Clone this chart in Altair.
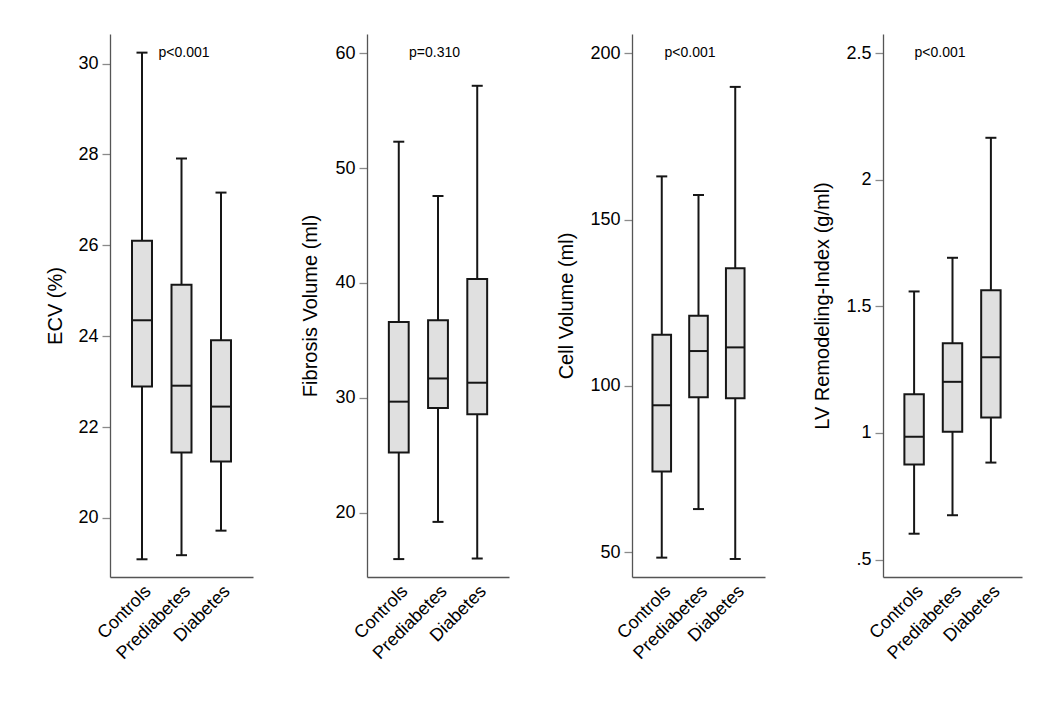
import altair as alt
import pandas as pd

groups = ["Controls", "Prediabetes", "Diabetes"]

# ECV (%)
ecv_low = [19.09, 19.18, 19.72]
ecv_q1 = [22.89, 21.44, 21.24]
ecv_med = [24.35, 22.91, 22.45]
ecv_q3 = [26.10, 25.13, 23.91]
ecv_high = [30.24, 27.91, 27.16]

# Fibrosis Volume (ml)
fib_low = [15.95, 19.19, 16.0]
fib_q1 = [25.23, 29.10, 28.57]
fib_med = [29.66, 31.68, 31.31]
fib_q3 = [36.60, 36.76, 40.34]
fib_high = [52.30, 47.57, 57.17]

# Cell Volume (ml)
cell_low = [48.4, 63.0, 48.0]
cell_q1 = [74.3, 96.6, 96.3]
cell_med = [94.2, 110.5, 111.6]
cell_q3 = [115.4, 121.1, 135.4]
cell_high = [163.0, 157.4, 189.9]

# LV Remodeling-Index (g/ml)
lv_low = [0.602, 0.675, 0.883]
lv_q1 = [0.875, 1.005, 1.061]
lv_med = [0.985, 1.202, 1.299]
lv_q3 = [1.153, 1.354, 1.564]
lv_high = [1.559, 1.692, 2.166]

titles = ["ECV (%)", "Fibrosis Volume (ml)", "Cell Volume (ml)", "LV Remodeling-Index (g/ml)"]
pvalues = ["p<0.001", "p=0.310", "p<0.001", "p<0.001"]
domains = [[18.70, 30.65], [14.39, 61.68], [42.58, 205.8], [0.431, 2.576]]
tick_values = [[20, 22, 24, 26, 28, 30], [20, 30, 40, 50, 60], [50, 100, 150, 200], [0.5, 1, 1.5, 2, 2.5]]

FONT = "Liberation Sans"
DARK = "#161616"
FILL = "#e0e0e0"
HEIGHT = 543
P_IN = 0.494
P_OUT = 0.557


def panel(low, q1, med, q3, high, title, dom, ticks, ptext, width, ext, pdx, label_expr=None):
    df = pd.DataFrame({"group": groups, "low": low, "q1": q1, "med": med, "q3": q3, "high": high})
    step = width / (3 - P_IN + 2 * P_OUT)
    box_w = step * (1 - P_IN)
    xenc = alt.X(
        "group:N", sort=groups, title=None,
        scale=alt.Scale(type="band", paddingInner=P_IN, paddingOuter=P_OUT),
        axis=alt.Axis(labelAngle=-45, ticks=False, labelPadding=5, labelFontSize=18,
                      labelColor="black", domainColor="#555555", domainWidth=1.3),
    )
    ax_kwargs = dict(values=ticks, grid=False, tickSize=8, tickColor="#8a8a8a", tickWidth=1.3,
                     labelFontSize=18, labelColor="black", labelPadding=4,
                     titleFontSize=20, titleFontWeight="normal", titleColor="black",
                     minExtent=ext, maxExtent=ext, titlePadding=8,
                     domainColor="#555555", domainWidth=1.3)
    if label_expr:
        ax_kwargs["labelExpr"] = label_expr
    yaxis = alt.Axis(**ax_kwargs)
    ys = alt.Scale(domain=dom, nice=False, zero=False)

    def Y(field):
        return alt.Y(field + ":Q", scale=ys, axis=yaxis, title=title)

    base = alt.Chart(df)
    whisk = base.mark_rule(color=DARK, strokeWidth=2, opacity=1).encode(x=xenc, y=Y("low"), y2="high:Q")
    cap_lo = base.mark_tick(color=DARK, size=11, thickness=2, opacity=1).encode(x=xenc, y=Y("low"))
    cap_hi = base.mark_tick(color=DARK, size=11, thickness=2, opacity=1).encode(x=xenc, y=Y("high"))
    box = base.mark_bar(fill=FILL, stroke=DARK, strokeWidth=2, opacity=1).encode(x=xenc, y=Y("q1"), y2="q3:Q")
    medl = base.mark_tick(color=DARK, size=box_w, thickness=2, opacity=1).encode(x=xenc, y=Y("med"))
    tdf = pd.DataFrame({"group": ["Prediabetes"], "label": [ptext]})
    txt = alt.Chart(tdf).mark_text(fontSize=14, font=FONT, color="black", baseline="middle",
                                   align="center", dx=pdx).encode(
        x=xenc, y=alt.value(19), text="label:N")
    return alt.layer(whisk, cap_lo, cap_hi, box, medl, txt).properties(width=width, height=HEIGHT)


p1 = panel(ecv_low, ecv_q1, ecv_med, ecv_q3, ecv_high, titles[0], domains[0], tick_values[0], pvalues[0], 143, 37, 2.5)
p2 = panel(fib_low, fib_q1, fib_med, fib_q3, fib_high, titles[1], domains[1], tick_values[1], pvalues[1], 142, 39, -3.5)
p3 = panel(cell_low, cell_q1, cell_med, cell_q3, cell_high, titles[2], domains[2], tick_values[2], pvalues[2], 133, 48, -8.5)
p4 = panel(lv_low, lv_q1, lv_med, lv_q3, lv_high, titles[3], domains[3], tick_values[3], pvalues[3], 139, 43, -12.5,
           label_expr="datum.value == 0.5 ? '.5' : format(datum.value, '~g')")

chart = alt.hconcat(p1, p2, p3, p4, spacing=47).properties(
    padding={"left": 37, "top": 26, "right": 5, "bottom": 5},
    background="white",
).configure_view(stroke=None).configure_axis(
    labelFont=FONT, titleFont=FONT
).configure_text(font=FONT)

chart.save("out.html", embed_options={"renderer": "svg", "actions": False})
